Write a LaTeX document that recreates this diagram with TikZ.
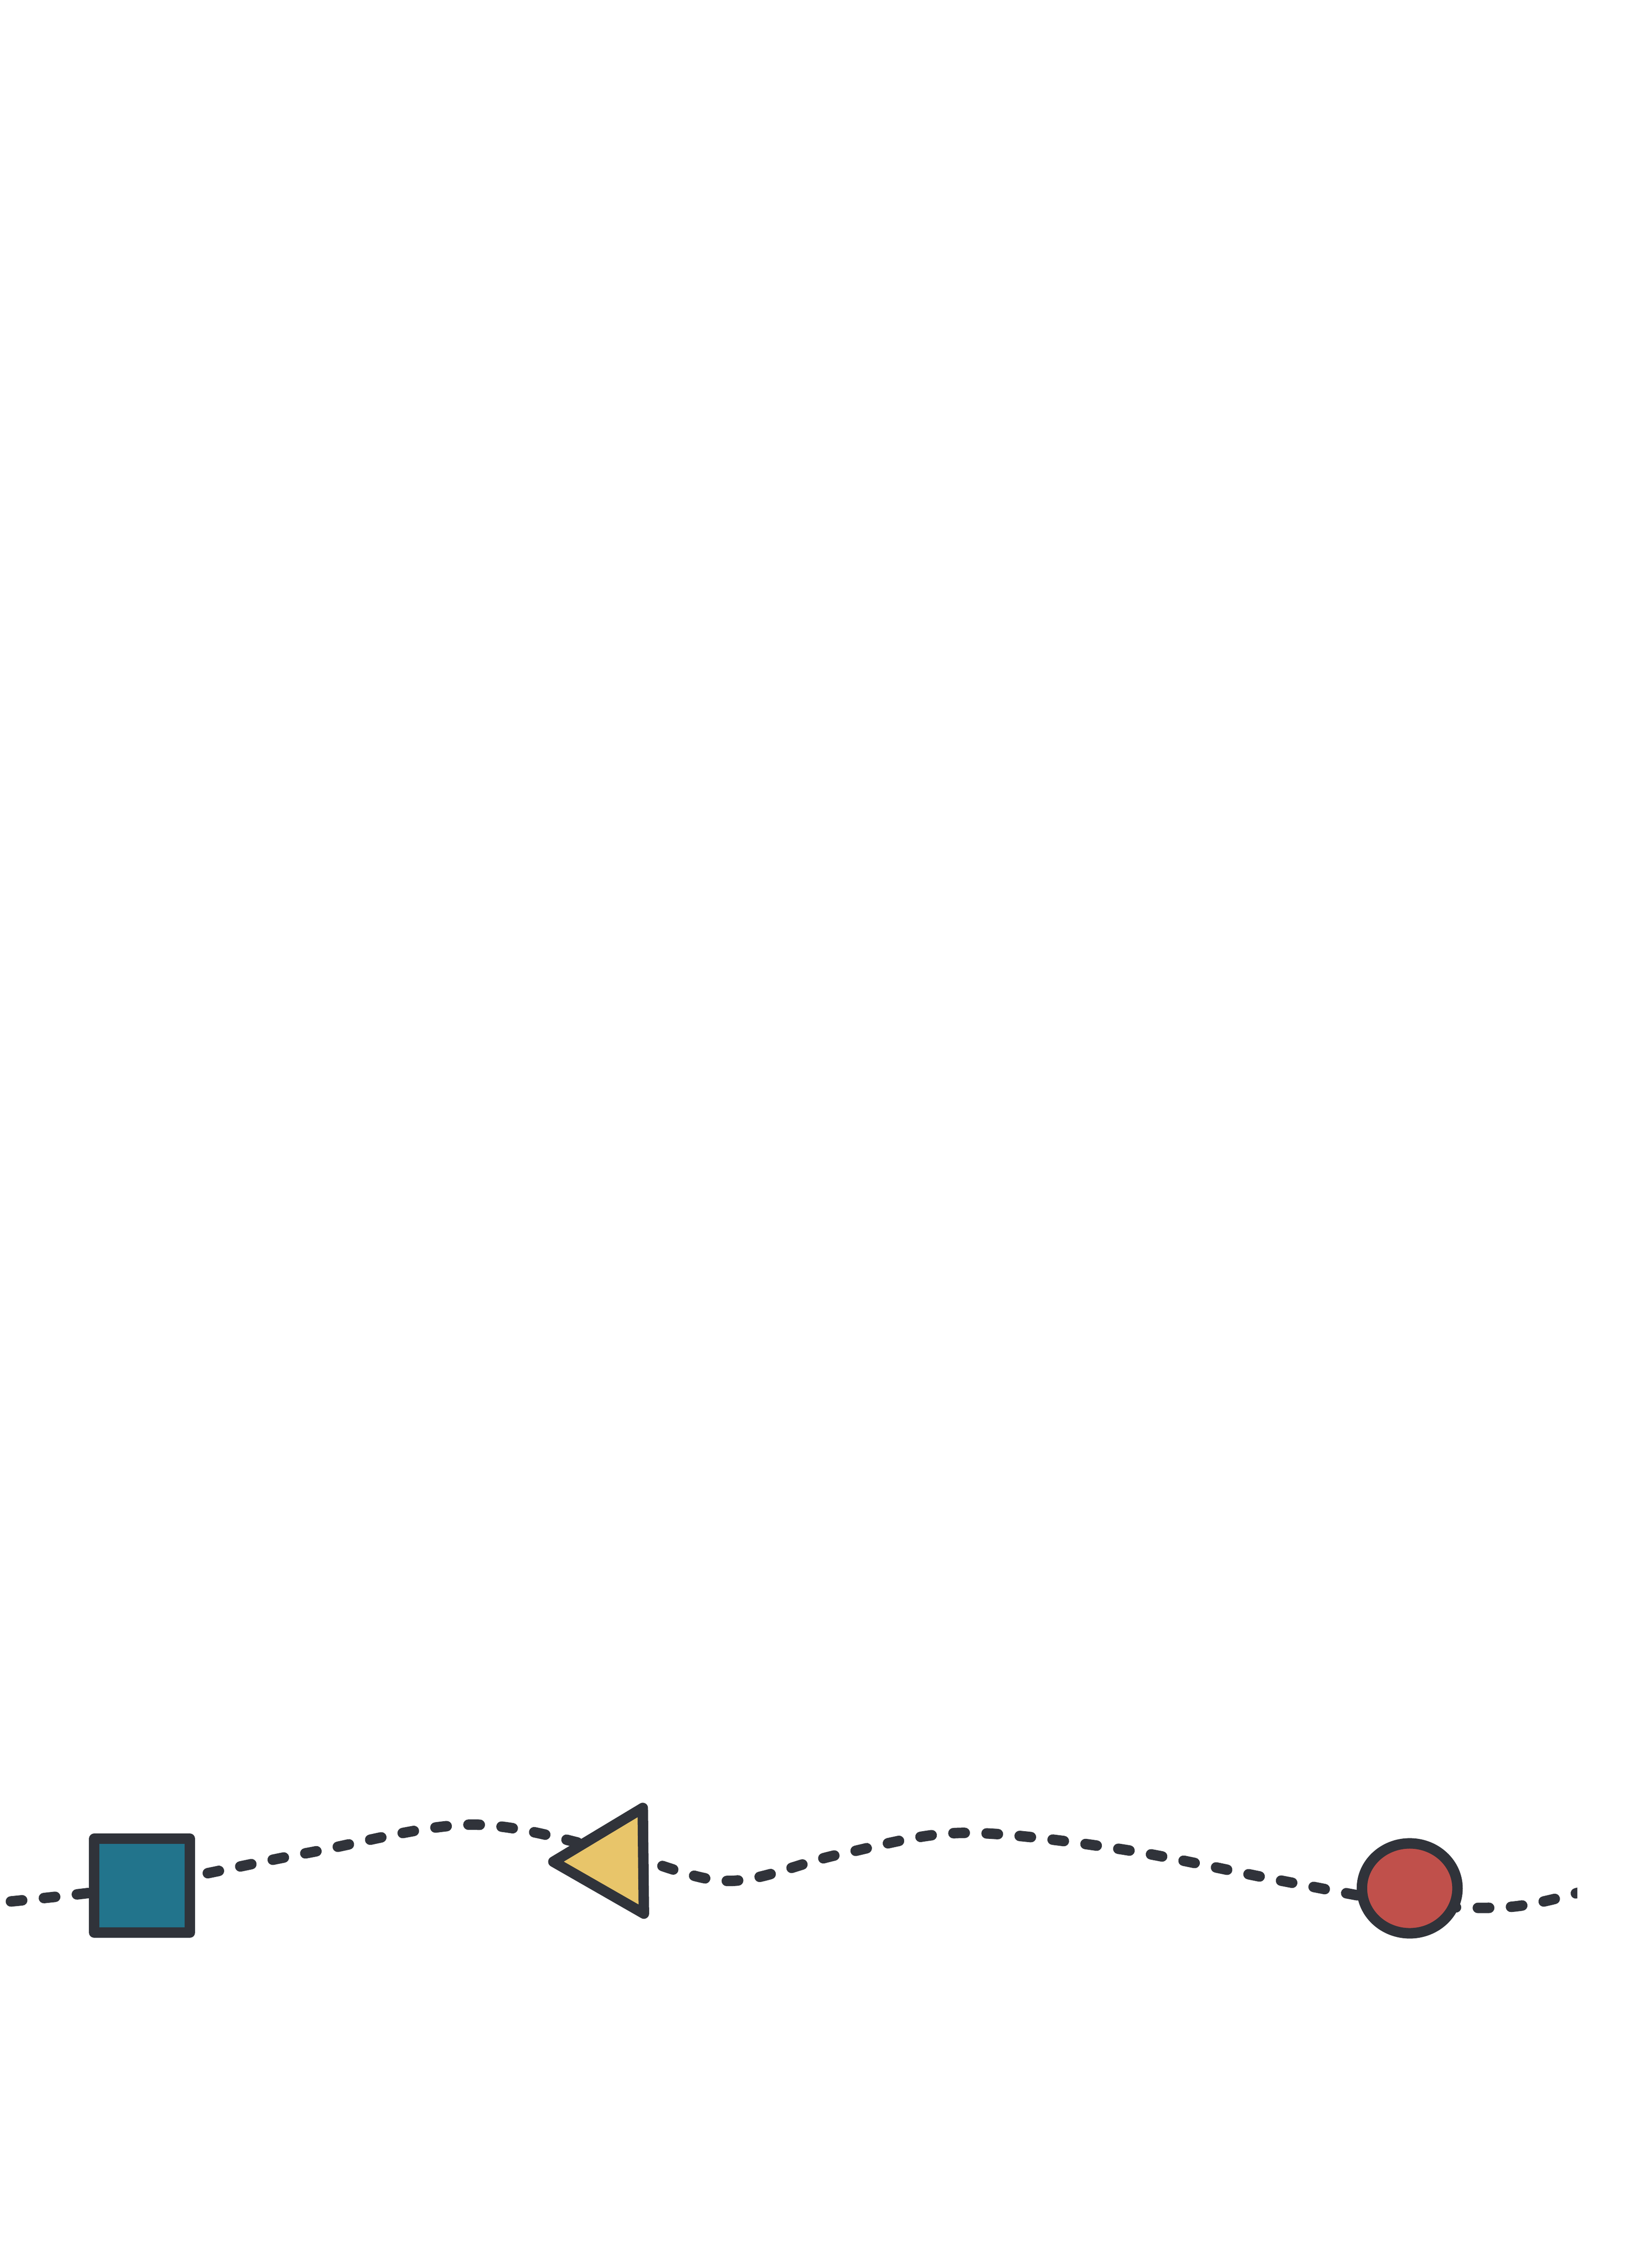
\documentclass[tikz,border=0pt]{standalone}
\usetikzlibrary{shapes.geometric,backgrounds}
\definecolor{inkDark}{HTML}{30333A}
\definecolor{tealFill}{HTML}{22748C}
\definecolor{sandFill}{HTML}{E8C56A}
\definecolor{brickFill}{HTML}{C0504B}
\begin{document}
\begin{tikzpicture}
[waveDecorate/.style={draw=inkDark,line width=0.24cm,line cap=round,
    dash pattern=on 0.26cm off 0.50cm},%
  nodeDecorate/.style={draw=inkDark,line width=0.24cm,line join=round,
    inner sep=0pt,outer sep=0pt},
  scale=1]
\useasboundingbox (0,0) rectangle (37.32,-51.97);
%% nodes or vertices
\node (box) at (3.255,-43.21) [nodeDecorate,rectangle,fill=tealFill,
  minimum width=2.19cm,minimum height=2.15cm] {};
\node (wedge) at (12.68,-42.66) [nodeDecorate,isosceles triangle,fill=sandFill,
  isosceles triangle stretches,minimum width=2.42cm,minimum height=2.06cm,
  rotate=180.6,anchor=apex] {};
\node (ball) at (32.30,-43.27) [nodeDecorate,ellipse,fill=brickFill,
  minimum width=2.19cm,minimum height=2.06cm] {};
%% points of the wave
\foreach \pname/\x/\y in {
  w0/0.25/-43.57, w1/7.04/-42.46, w2/10.80/-41.81, w3/14.05/-42.42,
  w4/16.66/-43.10, w5/19.20/-42.50, w6/22.00/-42.00, w7/25.60/-42.36,
  w8/29.28/-43.08, w9/32.30/-43.62, w10/34.54/-43.70, w11/36.20/-43.36,
  w12/37.00/-43.05}
{
  \coordinate (\pname) at (\x,\y);
}
%% the wave behind the nodes
\begin{scope}[on background layer]
\clip (0,0) rectangle (36.14,-51.97);
\draw[waveDecorate] plot[smooth,tension=0.55] coordinates {
  (w0) (box.center) (w1) (w2) (w3) (w4) (w5) (w6) (w7) (w8) (w9) (w10) (w11) (w12)};
\end{scope}
\end{tikzpicture}
\end{document}
